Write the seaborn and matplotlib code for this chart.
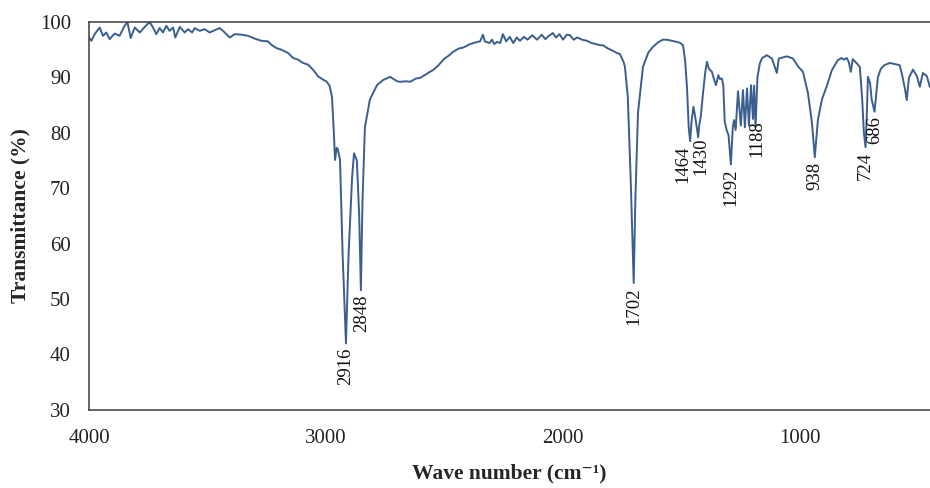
# FTIR spectrum - transmittance vs wave number
import numpy as np
import pandas as pd
import matplotlib
matplotlib.use('Agg')
import matplotlib.pyplot as plt
import seaborn as sns

# wave number (cm-1)
wave_number = [
    4000, 3990, 3976, 3955, 3941, 3927, 3913, 3892, 3871, 3850, 3838, 3824,
    3807, 3786, 3765, 3744, 3730, 3716, 3702, 3688, 3674, 3660, 3645, 3636,
    3617, 3596, 3582, 3565, 3554, 3533, 3512, 3491, 3470, 3449, 3435, 3406,
    3385, 3357, 3329, 3301, 3273, 3245, 3231, 3210, 3189, 3160, 3139, 3118,
    3097, 3076, 3055, 3034, 3013, 2999, 2985, 2975, 2967, 2962, 2955, 2950,
    2941, 2930, 2916, 2905, 2890, 2882, 2870, 2860, 2853, 2846, 2836, 2815,
    2785, 2760, 2730, 2700, 2688, 2660, 2646, 2620, 2604, 2580, 2562, 2549,
    2530, 2500, 2480, 2465, 2440, 2420, 2393, 2370, 2350, 2338, 2330, 2310,
    2300, 2290, 2279, 2265, 2254, 2240, 2225, 2210, 2195, 2182, 2165, 2150,
    2130, 2110, 2090, 2075, 2060, 2043, 2030, 2015, 2000, 1985, 1971, 1955,
    1940, 1920, 1899, 1880, 1860, 1845, 1832, 1810, 1790, 1773, 1760, 1745,
    1739, 1727, 1715, 1702, 1695, 1684, 1663, 1640, 1621, 1600, 1580, 1562,
    1540, 1520, 1505, 1494, 1485, 1477, 1470, 1464, 1458, 1450, 1443, 1430,
    1425, 1419, 1410, 1400, 1393, 1385, 1372, 1362, 1355, 1345, 1338, 1330,
    1324, 1318, 1310, 1302, 1292, 1284, 1279, 1272, 1262, 1250, 1241, 1233,
    1224, 1216, 1207, 1199, 1194, 1188, 1180, 1170, 1160, 1140, 1119, 1098,
    1090, 1056, 1030, 1009, 988, 967, 950, 938, 925, 908, 887, 866,
    841, 825, 815, 803, 795, 786, 778, 760, 748, 738, 731, 724,
    718, 714, 705, 698, 686, 680, 672, 660, 645, 621, 600, 580,
    570, 558, 550, 541, 524, 515, 507, 495, 482, 465, 453,
]

# transmittance (%)
transmittance = [
    97.2, 96.6, 97.8, 99.0, 97.5, 98.1, 96.9, 97.9, 97.5, 99.3, 100.0, 97.1,
    99.0, 98.1, 99.1, 100.0, 99.0, 97.8, 98.9, 98.1, 99.3, 98.4, 99.0, 97.2,
    99.1, 98.1, 98.7, 98.1, 98.9, 98.4, 98.7, 98.1, 98.5, 98.9, 98.4, 97.2,
    97.8, 97.7, 97.5, 97.0, 96.6, 96.5, 95.9, 95.3, 95.0, 94.4, 93.5, 93.2,
    92.6, 92.3, 91.4, 90.2, 89.6, 89.3, 88.5, 86.5, 80.0, 75.1, 77.3, 77.0,
    75.1, 58.0, 42.0, 58.0, 72.0, 76.3, 75.0, 65.0, 51.6, 68.0, 81.0, 86.0,
    88.6, 89.5, 90.1, 89.3, 89.2, 89.3, 89.2, 89.8, 89.9, 90.5, 91.0, 91.3,
    92.0, 93.4, 94.0, 94.6, 95.2, 95.4, 96.0, 96.3, 96.5, 97.7, 96.5, 96.2,
    96.8, 96.0, 96.4, 96.2, 97.8, 96.5, 97.3, 96.2, 97.2, 96.6, 97.3, 96.8,
    97.6, 96.8, 97.7, 96.9, 97.5, 98.0, 97.2, 97.8, 96.8, 97.7, 97.6, 96.8,
    97.2, 96.8, 96.6, 96.2, 96.0, 95.8, 95.8, 95.2, 94.8, 94.4, 94.2, 92.8,
    91.9, 86.5, 72.0, 52.9, 68.0, 83.6, 91.9, 94.5, 95.5, 96.3, 96.8, 96.8,
    96.6, 96.4, 96.2, 95.8, 93.0, 88.0, 81.0, 78.5, 82.0, 84.7, 83.0, 79.2,
    81.5, 82.9, 87.0, 91.0, 92.8, 91.6, 91.0, 89.5, 88.6, 90.4, 89.7, 89.8,
    88.5, 82.0, 80.5, 79.6, 74.3, 81.0, 82.3, 80.5, 87.5, 81.3, 87.7, 81.0,
    88.0, 81.3, 88.6, 82.5, 88.5, 81.0, 90.0, 92.5, 93.5, 94.0, 93.4, 90.8,
    93.4, 93.8, 93.4, 92.0, 91.0, 87.2, 81.8, 75.6, 82.3, 86.0, 88.5, 91.3,
    93.1, 93.5, 93.2, 93.5, 92.8, 91.0, 93.3, 92.5, 91.9, 86.0, 80.0, 77.4,
    84.0, 90.1, 89.0, 86.0, 83.8, 86.5, 90.0, 91.5, 92.2, 92.6, 92.4, 92.2,
    90.5, 88.0, 85.9, 89.9, 91.4, 90.8, 90.2, 88.3, 90.8, 90.2, 88.3,
]

# labelled absorption bands
peak_labels = [2916, 2848, 1702, 1464, 1430, 1292, 1188, 938, 724, 686]
# small nudges (points) so crowded labels sit as in the original
label_nudge = {1464: (-5, 0), 1430: (2, 3), 1188: (1, 8)}

df = pd.DataFrame({'wave_number': wave_number, 'transmittance': transmittance})

sns.set_style('white')
plt.rcParams['font.family'] = ['Liberation Serif', 'DejaVu Serif']

fig = plt.figure(figsize=(9.3, 4.88), dpi=100)
ax = fig.add_axes([0.0957, 0.16, 0.9043, 0.795])

sns.lineplot(data=df, x='wave_number', y='transmittance', ax=ax,
             color='#3a5f8f', linewidth=1.4, estimator=None, sort=False)

ax.set_xlim(4000, 452)
ax.set_ylim(30, 100)
ax.set_xticks([4000, 3000, 2000, 1000])
ax.set_yticks(range(30, 101, 10))
ax.tick_params(axis='both', length=0, labelsize=15, colors='#222222')
ax.tick_params(axis='y', pad=13)
ax.tick_params(axis='x', pad=14)

for side in ['left', 'top', 'bottom']:
    ax.spines[side].set_color('#3c3c3c')
    ax.spines[side].set_linewidth(1.1)
ax.spines['right'].set_visible(False)

ax.set_xlabel('Wave number (cm⁻¹)', fontsize=15.5, fontweight='bold', labelpad=11)
ax.set_ylabel('Transmittance (%)', fontsize=15.5, fontweight='bold', labelpad=7)

# peak labels, rotated, just under the bottom of each band
wn = df['wave_number'].values
tr = df['transmittance'].values
for p in peak_labels:
    near = np.abs(wn - p) <= 8
    y = tr[near].min()
    dx, dy = label_nudge.get(p, (0, 0))
    ax.annotate(str(p), xy=(p, y - 0.8), xytext=(dx, dy), textcoords='offset points',
                rotation=90, ha='center', va='top', fontsize=13.5, color='#111111')

fig.savefig('out.png', dpi=100)
